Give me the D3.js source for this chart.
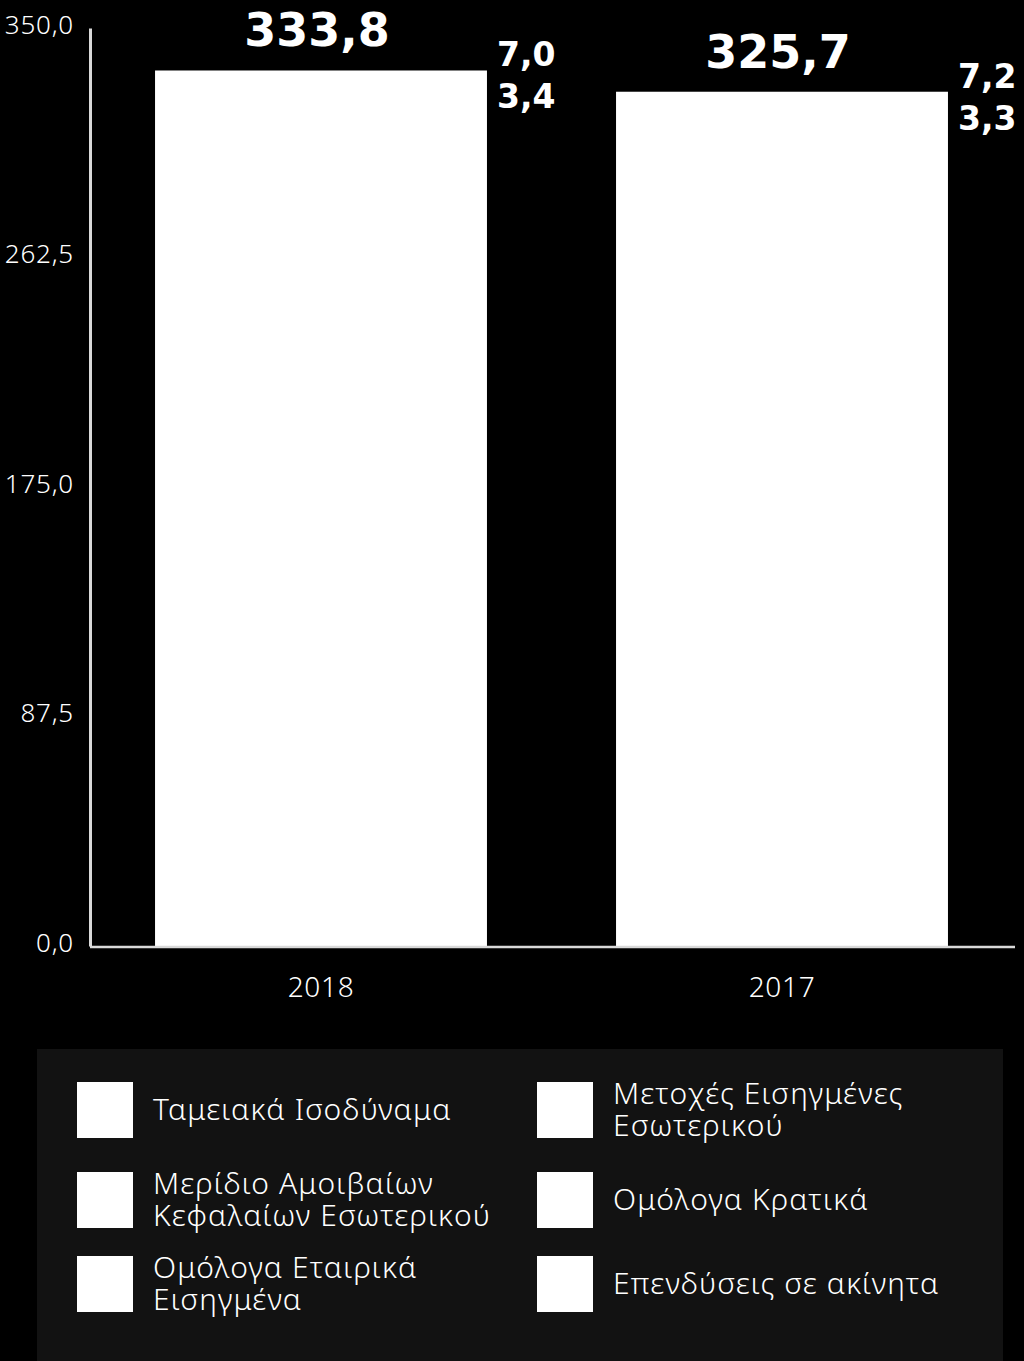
<!DOCTYPE html>
<html><head><meta charset="utf-8">
<script src="https://cdn.jsdelivr.net/npm/d3@7"></script>
<style>
html,body{margin:0;padding:0;background:#000;}
svg{display:block;}
</style></head>
<body>
<script>
// ---- data ----
const categories = ["2018", "2017"];
const totals = [333.8, 325.7];
const upperLabels = [7.0, 7.2];
const lowerLabels = [3.4, 3.3];
const yTicks = [0, 87.5, 175, 262.5, 350];
const legendLabels = [
  ["Ταμειακά Ισοδύναμα"],
  ["Μερίδιο Αμοιβαίων", "Κεφαλαίων Εσωτερικού"],
  ["Ομόλογα Εταιρικά", "Εισηγμένα"],
  ["Μετοχές Εισηγμένες", "Εσωτερικού"],
  ["Ομόλογα Κρατικά"],
  ["Επενδύσεις σε ακίνητα"]
];

const W = 1024, H = 1361;
const fmt = v => d3.format(".1f")(v).replace(".", ",");
const FONT = "'Noto Sans', 'Open Sans', sans-serif";
const BOLD = "'DejaVu Sans', Lato, sans-serif";

const svg = d3.select("body").append("svg").attr("width", W).attr("height", H);
svg.append("rect").attr("width", W).attr("height", H).attr("fill", "#000");

const x = d3.scaleBand().domain(categories).range([90.5, 1012.5]).paddingInner(0.28).paddingOuter(0.14);
const y = d3.scaleLinear().domain([0, 350]).range([946, 28]);

// bars
svg.selectAll("rect.bar").data(categories).join("rect")
  .attr("class", "bar")
  .attr("x", d => x(d))
  .attr("width", x.bandwidth())
  .attr("y", (d, i) => y(totals[i]))
  .attr("height", (d, i) => y(0) - y(totals[i]))
  .attr("fill", "#fff");

// y axis
const yAxis = svg.append("g").attr("transform", "translate(90,0)")
  .call(d3.axisLeft(y).tickValues(yTicks).tickFormat(fmt).tickSize(0).tickPadding(16));
yAxis.select(".domain").attr("stroke", "#d9d9d9").attr("stroke-width", 3);
yAxis.selectAll("text").attr("fill", "#fff").attr("font-family", FONT).attr("font-size", 26)
  .attr("font-weight", 300).attr("letter-spacing", 0.8).attr("dy", "0.2em");

// x axis
const xAxis = svg.append("g").attr("transform", "translate(0,947)")
  .call(d3.axisBottom(x).tickSize(0).tickPadding(30));
xAxis.select(".domain").attr("stroke", "#d9d9d9").attr("stroke-width", 2.5).attr("d", "M90,0H1015");
xAxis.selectAll("text").attr("fill", "#fff").attr("font-family", FONT).attr("font-size", 28)
  .attr("font-weight", 300).attr("letter-spacing", 0.7);

// total labels
svg.selectAll("text.total").data(categories).join("text")
  .attr("class", "total")
  .attr("x", d => x(d) + x.bandwidth() / 2 - 4)
  .attr("y", (d, i) => y(totals[i]) - 24)
  .attr("text-anchor", "middle")
  .attr("fill", "#fff").attr("font-family", BOLD).attr("font-weight", "bold")
  .attr("font-size", 46)
  .text((d, i) => fmt(totals[i]));

// small side labels
svg.selectAll("text.up").data(categories).join("text")
  .attr("class", "up")
  .attr("x", d => x(d) + x.bandwidth() + 10)
  .attr("y", (d, i) => y(totals[i]) - 4)
  .attr("fill", "#fff").attr("font-family", BOLD).attr("font-weight", "bold")
  .attr("font-size", 33)
  .text((d, i) => fmt(upperLabels[i]));
svg.selectAll("text.low").data(categories).join("text")
  .attr("class", "low")
  .attr("x", d => x(d) + x.bandwidth() + 10)
  .attr("y", (d, i) => y(totals[i]) + 38)
  .attr("fill", "#fff").attr("font-family", BOLD).attr("font-weight", "bold")
  .attr("font-size", 33)
  .text((d, i) => fmt(lowerLabels[i]));

// legend
const lg = svg.append("g");
lg.append("rect").attr("x", 37).attr("y", 1049).attr("width", 966).attr("height", H - 1049).attr("fill", "#121212");
const colX = [77, 537];
const rowY = [1082, 1172, 1256];
legendLabels.forEach((lines, i) => {
  const col = Math.floor(i / 3), row = i % 3;
  const sx = colX[col], sy = rowY[row];
  lg.append("rect").attr("x", sx).attr("y", sy).attr("width", 56).attr("height", 56).attr("fill", "#fff");
  const t = lg.append("text").attr("fill", "#fff").attr("font-family", FONT).attr("font-size", 30)
    .attr("font-weight", 300).attr("letter-spacing", 1.1);
  const cy = sy + 28;
  const lh = 32;
  const startBase = cy + 10 - (lines.length - 1) * lh / 2;
  lines.forEach((ln, k) => {
    t.append("tspan").attr("x", sx + 76).attr("y", startBase + k * lh).text(ln);
  });
});
</script>
</body></html>
